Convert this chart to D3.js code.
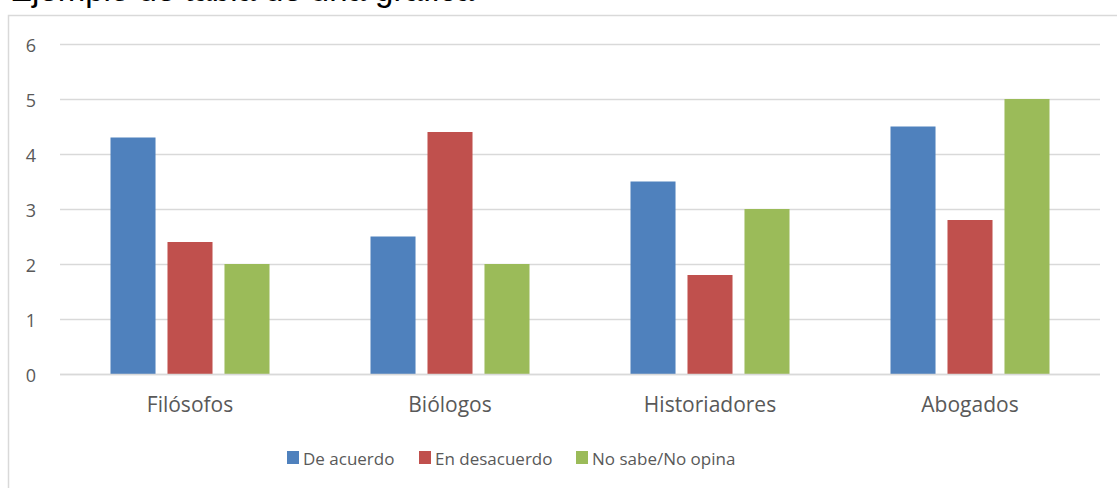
<!DOCTYPE html>
<html>
<head>
<meta charset="utf-8">
<script src="https://cdn.jsdelivr.net/npm/d3@7"></script>
<style>
  body { margin: 0; background: #fff; }
  svg { display: block; }
  text { font-family: "Open Sans", "Noto Sans", sans-serif; }
</style>
</head>
<body>
<svg id="chart" width="1117" height="488"></svg>
<script>
// Data
const categories = ["Filósofos", "Biólogos", "Historiadores", "Abogados"];
const seriesNames = ["De acuerdo", "En desacuerdo", "No sabe/No opina"];
const deAcuerdo = [4.3, 2.5, 3.5, 4.5];
const enDesacuerdo = [2.4, 4.4, 1.8, 2.8];
const noSabe = [2, 2, 3, 5];
const yTicks = [0, 1, 2, 3, 4, 5, 6];
const colors = ["#4F81BD", "#C0504D", "#9BBB59"];

const seriesValues = [deAcuerdo, enDesacuerdo, noSabe];

const svg = d3.select("#chart");
const width = 1117;
const height = 488;
const margin = { top: 44, right: 17, bottom: 114, left: 60 };

// caption above the frame, mostly cut off at the top edge
svg.append("text")
  .attr("x", 10)
  .attr("y", 1)
  .attr("font-size", 33)
  .attr("fill", "#000")
  .style("font-family", "'Liberation Sans', Arial, sans-serif")
  .text("Ejemplo de tabla de una gráfica");

// chart frame
svg.append("rect")
  .attr("x", 8.5)
  .attr("y", 15.5)
  .attr("width", 1120)
  .attr("height", 500)
  .attr("fill", "none")
  .attr("stroke", "#D9D9D9")
  .attr("stroke-width", 1.5);

// Scales
const x0 = d3.scaleBand()
  .domain(categories)
  .range([margin.left, width - margin.right])
  .padding(0);

const x1 = d3.scaleBand()
  .domain(seriesNames)
  .range([0, x0.bandwidth()])
  .paddingInner(0.21)
  .paddingOuter(0.886);

const y = d3.scaleLinear()
  .domain([0, 6])
  .range([height - margin.bottom, margin.top]);

// Gridlines
svg.append("g")
  .selectAll("line")
  .data(yTicks)
  .join("line")
  .attr("x1", margin.left)
  .attr("x2", width - margin.right)
  .attr("y1", d => Math.round(y(d)) + 0.5)
  .attr("y2", d => Math.round(y(d)) + 0.5)
  .attr("stroke", "#D9D9D9")
  .attr("stroke-width", 1.5);

// Y axis labels
const yAxis = svg.append("g")
  .attr("transform", `translate(36,2)`)
  .call(d3.axisLeft(y).tickValues(yTicks).tickFormat(d3.format("d")).tickSize(0).tickPadding(0));
yAxis.select(".domain").remove();
yAxis.selectAll("text")
  .attr("font-size", 18)
  .attr("fill", "#595959")
  .style("font-family", "'Open Sans', sans-serif");

// Bars
const groups = svg.append("g")
  .selectAll("g")
  .data(categories)
  .join("g")
  .attr("transform", d => `translate(${x0(d)},0)`);

groups.selectAll("rect")
  .data((d, i) => seriesNames.map((s, j) => ({ s, v: seriesValues[j][i], c: colors[j] })))
  .join("rect")
  .attr("x", d => x1(d.s))
  .attr("y", d => y(d.v))
  .attr("width", x1.bandwidth())
  .attr("height", d => y(0) - y(d.v))
  .attr("fill", d => d.c);

// baseline over bars
svg.append("line")
  .attr("x1", margin.left)
  .attr("x2", width - margin.right)
  .attr("y1", Math.round(y(0)) + 0.5)
  .attr("y2", Math.round(y(0)) + 0.5)
  .attr("stroke", "#D9D9D9")
  .attr("stroke-width", 1.5);

// X axis labels
const xAxis = svg.append("g")
  .attr("transform", `translate(0,${y(0)})`)
  .call(d3.axisBottom(x0).tickSize(0).tickPadding(0));
xAxis.select(".domain").remove();
xAxis.selectAll("text")
  .attr("y", 38)
  .attr("dy", 0)
  .attr("font-size", 21)
  .attr("fill", "#595959")
  .style("font-family", "'Open Sans', sans-serif");

// Legend
const legendX = [287, 419, 576];
const legend = svg.append("g")
  .selectAll("g")
  .data(seriesNames)
  .join("g")
  .attr("transform", (d, i) => `translate(${legendX[i]},451)`);

legend.append("rect")
  .attr("width", 12)
  .attr("height", 13)
  .attr("fill", (d, i) => colors[i]);

legend.append("text")
  .attr("x", 16)
  .attr("y", 14)
  .attr("font-size", 17)
  .attr("fill", "#595959")
  .text(d => d);
</script>
</body>
</html>
